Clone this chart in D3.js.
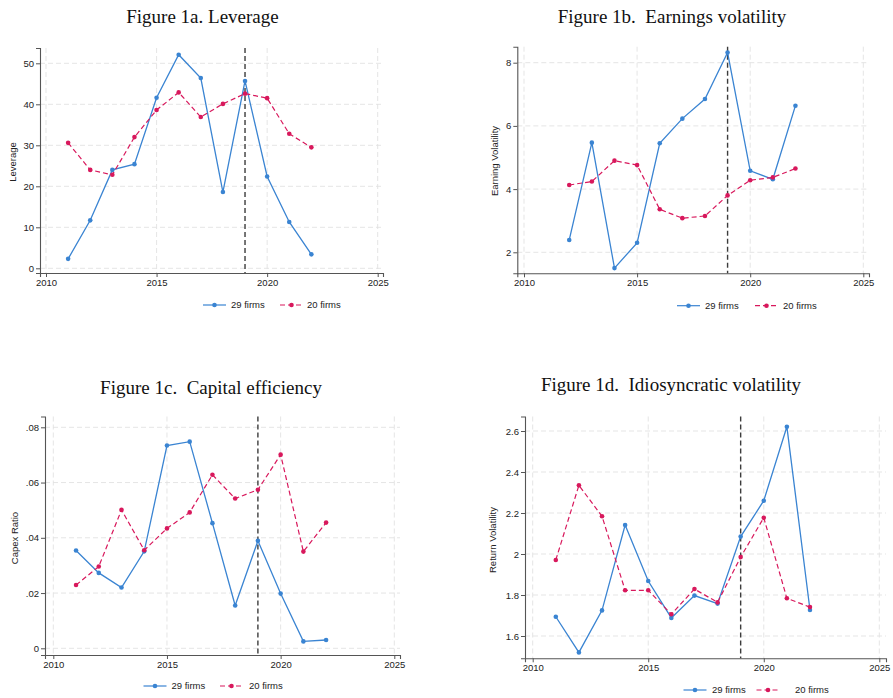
<!DOCTYPE html>
<html>
<head>
<meta charset="utf-8">
<script src="https://cdn.jsdelivr.net/npm/d3@7/dist/d3.min.js"></script>
<style>
  html, body { margin: 0; padding: 0; background: #fff; }
  svg { display: block; }
</style>
</head>
<body>
<svg id="chart" width="893" height="698"></svg>
<script>
// ---------- DATA ----------
const years = [2011, 2012, 2013, 2014, 2015, 2016, 2017, 2018, 2019, 2020, 2021, 2022];
const earnYears = [2012, 2013, 2014, 2015, 2016, 2017, 2018, 2019, 2020, 2021, 2022];
const seriesNames = ["29 firms", "20 firms"];
const xTicks = [2010, 2015, 2020, 2025];
const eventYear = 2019;

const leverage29 = [2.3, 11.7, 24.0, 25.4, 41.6, 52.1, 46.4, 18.6, 45.7, 22.4, 11.3, 3.4];
const leverage20 = [30.6, 24.0, 22.8, 32.0, 38.6, 42.9, 36.9, 40.1, 42.6, 41.5, 32.8, 29.5];
const leverageTicks = [0, 10, 20, 30, 40, 50];

const earnVol29 = [2.39, 5.47, 1.50, 2.30, 5.45, 6.23, 6.85, 8.32, 4.58, 4.31, 6.64];
const earnVol20 = [4.13, 4.24, 4.90, 4.76, 3.36, 3.08, 3.15, 3.80, 4.28, 4.37, 4.65];
const earnTicks = [2, 4, 6, 8];

const capex29 = [0.0354, 0.0273, 0.0220, 0.0351, 0.0734, 0.0748, 0.0453, 0.0155, 0.0389, 0.0198, 0.0025, 0.0030];
const capex20 = [0.0229, 0.0296, 0.0501, 0.0355, 0.0434, 0.0492, 0.0628, 0.0542, 0.0574, 0.0701, 0.0350, 0.0455];
const capexTicks = [0, 0.02, 0.04, 0.06, 0.08];

const retVol29 = [1.694, 1.520, 1.725, 2.141, 1.868, 1.688, 1.797, 1.758, 2.085, 2.260, 2.621, 1.727];
const retVol20 = [1.971, 2.335, 2.184, 1.823, 1.823, 1.706, 1.829, 1.764, 1.985, 2.177, 1.784, 1.741];
const retTicks = [1.6, 1.8, 2.0, 2.2, 2.4, 2.6];

// ---------- STYLE / LAYOUT ----------
const BLUE = "#3a84d2";
const RED = "#d8185c";
const svg = d3.select("#chart");

const panels = [
  { title: "Figure 1a. Leverage", tx: 202.5, ty: 23, ytitle: "Leverage",
    xs: years, s1: leverage29, s2: leverage20, yticks: leverageTicks, fmt: d => d3.format("d")(d),
    box: { l: 40, r: 383, t: 48, b: 273 }, xa: [46, 377.7], ya: [0, 268.3, 50, 63.3],
    ytx: 12.5, yty: 162, leg: { y: 305, b1: 203, t1: 231, b2: 280, t2: 307 } },
  { title: "Figure 1b.  Earnings volatility", tx: 672, ty: 23, ytitle: "Earning Volatility",
    xs: earnYears, s1: earnVol29, s2: earnVol20, yticks: earnTicks, fmt: d => d3.format("d")(d),
    box: { l: 517.3, r: 869, t: 46.7, b: 273.3 }, xa: [524, 863.3], ya: [2, 252.3, 8, 62.7],
    ytx: 495, yty: 161, leg: { y: 305.7, b1: 677, t1: 705, b2: 755, t2: 783 } },
  { title: "Figure 1c.  Capital efficiency", tx: 211, ty: 394, ytitle: "Capex Ratio",
    xs: years, s1: capex29, s2: capex20, yticks: capexTicks, fmt: d => d === 0 ? "0" : d3.format(".2f")(d).replace(/^0/, ""),
    box: { l: 45, r: 400, t: 416.5, b: 655 }, xa: [53.3, 394.3], ya: [0, 648.3, 0.08, 427.3],
    ytx: 15, yty: 538, leg: { y: 686, b1: 143.5, t1: 171.5, b2: 220, t2: 249 } },
  { title: "Figure 1d.  Idiosyncratic volatility", tx: 671, ty: 391, ytitle: "Return Volatility",
    xs: years, s1: retVol29, s2: retVol20, yticks: retTicks, fmt: d => d3.format("")(+d.toFixed(1)),
    box: { l: 525, r: 886, t: 416.5, b: 658.3 }, xa: [532.7, 879.3], ya: [1.6, 636, 2.6, 431],
    ytx: 492.7, yty: 540, leg: { y: 690, b1: 683.5, t1: 712, b2: 756.5, t2: 795 } }
];

panels.forEach(p => {
  const B = p.box;
  // x scale anchored on tick positions, then extended to the axis box
  const x0 = d3.scaleLinear().domain([2010, 2025]).range(p.xa);
  const x = d3.scaleLinear().domain([x0.invert(B.l), x0.invert(B.r)]).range([B.l, B.r]);
  const y0 = d3.scaleLinear().domain([p.ya[0], p.ya[2]]).range([p.ya[1], p.ya[3]]);
  const y = d3.scaleLinear().domain([y0.invert(B.b), y0.invert(B.t)]).range([B.b, B.t]);

  const g = svg.append("g");

  // Title
  g.append("text").attr("x", p.tx).attr("y", p.ty).attr("text-anchor", "middle")
    .attr("font-family", "'Liberation Serif', 'DejaVu Serif', serif")
    .attr("font-size", 19).attr("fill", "#111").style("white-space", "pre")
    .text(p.title);

  // Grid lines
  g.append("g").selectAll("line").data(p.yticks).join("line")
    .attr("x1", B.l).attr("x2", B.r).attr("y1", d => y(d)).attr("y2", d => y(d))
    .attr("stroke", "#e2e2e2").attr("stroke-width", 0.9).attr("stroke-dasharray", "5,3");
  g.append("g").selectAll("line").data(xTicks).join("line")
    .attr("x1", d => x(d)).attr("x2", d => x(d)).attr("y1", B.t).attr("y2", B.b)
    .attr("stroke", "#e2e2e2").attr("stroke-width", 0.9).attr("stroke-dasharray", "5,3");

  // Axes
  const xAxis = g.append("g").attr("transform", `translate(0,${B.b})`)
    .call(d3.axisBottom(x).tickValues(xTicks).tickFormat(d3.format("d")).tickSizeOuter(0).tickSize(4).tickPadding(2));
  const yAxis = g.append("g").attr("transform", `translate(${B.l},0)`)
    .call(d3.axisLeft(y).tickValues(p.yticks).tickFormat(p.fmt).tickSizeOuter(0).tickSize(4).tickPadding(2));
  [xAxis, yAxis].forEach(a => {
    a.select(".domain").attr("stroke", "#555").attr("stroke-width", 1.1);
    a.selectAll(".tick line").attr("stroke", "#555").attr("stroke-width", 1);
    a.selectAll(".tick text").attr("fill", "#222")
      .attr("font-family", "'Liberation Sans', Arial, sans-serif").attr("font-size", 9.5);
  });

  // Y-axis title
  g.append("text").attr("transform", `translate(${p.ytx},${p.yty}) rotate(-90)`)
    .attr("text-anchor", "middle").attr("dy", "0.35em")
    .attr("font-family", "'Liberation Sans', Arial, sans-serif").attr("font-size", 9.5)
    .attr("fill", "#222").text(p.ytitle);

  // Event line
  g.append("line").attr("x1", x(eventYear)).attr("x2", x(eventYear))
    .attr("y1", B.t).attr("y2", B.b)
    .attr("stroke", "#3c3c3c").attr("stroke-width", 1.4).attr("stroke-dasharray", "5,3");

  // Series
  const line = d3.line().x(d => x(d[0])).y(d => y(d[1]));
  const d1 = p.xs.map((yr, i) => [yr, p.s1[i]]);
  const d2 = p.xs.map((yr, i) => [yr, p.s2[i]]);
  g.append("path").datum(d1).attr("d", line).attr("fill", "none")
    .attr("stroke", BLUE).attr("stroke-width", 1.3);
  g.append("path").datum(d2).attr("d", line).attr("fill", "none")
    .attr("stroke", RED).attr("stroke-width", 1.2).attr("stroke-dasharray", "5,3");
  g.append("g").selectAll("circle").data(d1).join("circle")
    .attr("cx", d => x(d[0])).attr("cy", d => y(d[1])).attr("r", 2.3).attr("fill", BLUE);
  g.append("g").selectAll("circle").data(d2).join("circle")
    .attr("cx", d => x(d[0])).attr("cy", d => y(d[1])).attr("r", 2.3).attr("fill", RED);

  // Legend
  const L = p.leg;
  const legItems = [
    { name: seriesNames[0], c: BLUE, dash: null, bx: L.b1, tx: L.t1 },
    { name: seriesNames[1], c: RED, dash: "5,3", bx: L.b2, tx: L.t2 }
  ];
  legItems.forEach(it => {
    g.append("line").attr("x1", it.bx).attr("x2", it.bx + 23).attr("y1", L.y).attr("y2", L.y)
      .attr("stroke", it.c).attr("stroke-width", 1.2).attr("stroke-dasharray", it.dash);
    g.append("circle").attr("cx", it.bx + 11.5).attr("cy", L.y).attr("r", 2.3).attr("fill", it.c);
    g.append("text").attr("x", it.tx).attr("y", L.y).attr("dy", "0.35em")
      .attr("font-family", "'Liberation Sans', Arial, sans-serif").attr("font-size", 9.5)
      .attr("fill", "#222").text(it.name);
  });
});
</script>
</body>
</html>
